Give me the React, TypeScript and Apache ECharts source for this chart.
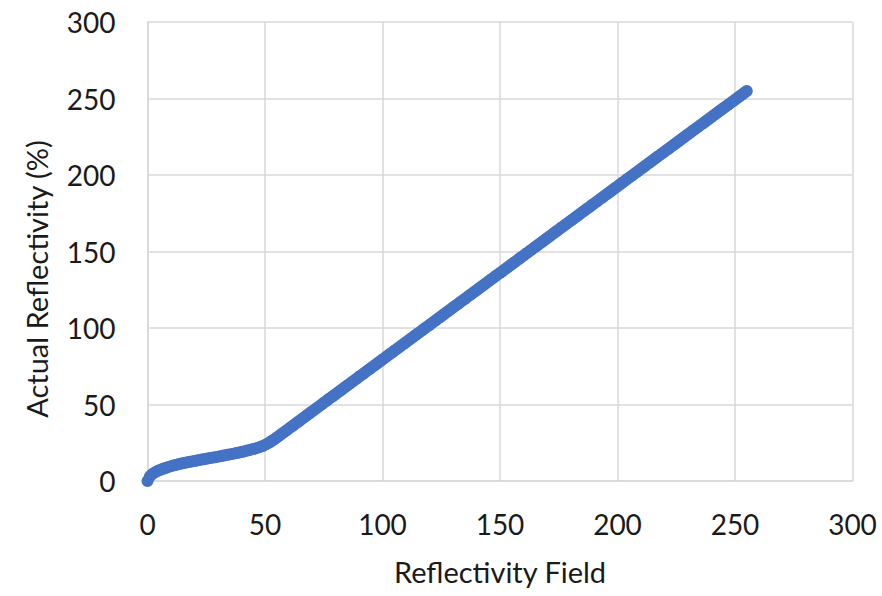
import React, { useEffect, useRef } from "react";
import * as echarts from "echarts";

const xTicks = [0, 50, 100, 150, 200, 250, 300];
const yTicks = [0, 50, 100, 150, 200, 250, 300];

// Actual reflectivity (%) for reflectivity field values 0..255
const actualReflectivity: number[] = [
  0, 3, 4.5, 5.5, 6.3, 7, 7.6, 8.2, 8.7, 9.2,
  9.7, 10.1, 10.5, 10.9, 11.3, 11.6, 11.9, 12.2, 12.5, 12.8,
  13.1, 13.4, 13.7, 14.0, 14.2, 14.5, 14.8, 15.1, 15.4, 15.6,
  15.9, 16.2, 16.5, 16.8, 17.1, 17.4, 17.7, 18.0, 18.3, 18.6,
  19.0, 19.3, 19.7, 20.1, 20.5, 20.9, 21.3, 21.8, 22.3, 22.9,
  23.6, 24.4, 25.3, 26.3, 27.3, 28.4, 29.5, 30.7, 31.8, 32.9,
  34.1, 35.2, 36.3, 37.5, 38.6, 39.7, 40.9, 42.0, 43.1, 44.3,
  45.4, 46.5, 47.7, 48.8, 49.9, 51.1, 52.2, 53.4, 54.5, 55.6,
  56.7, 57.9, 59.0, 60.1, 61.3, 62.4, 63.5, 64.7, 65.8, 66.9,
  68.1, 69.2, 70.3, 71.5, 72.6, 73.7, 74.9, 76.0, 77.1, 78.3,
  79.4, 80.5, 81.7, 82.8, 83.9, 85.1, 86.2, 87.3, 88.5, 89.6,
  90.7, 91.9, 93.0, 94.1, 95.3, 96.4, 97.5, 98.7, 99.8, 100.9,
  102.0, 103.2, 104.3, 105.4, 106.6, 107.7, 108.8, 110.0, 111.1, 112.2,
  113.4, 114.5, 115.6, 116.8, 117.9, 119.0, 120.2, 121.3, 122.4, 123.6,
  124.7, 125.8, 127.0, 128.1, 129.2, 130.4, 131.5, 132.6, 133.8, 134.9,
  136.0, 137.1, 138.3, 139.4, 140.5, 141.7, 142.8, 143.9, 145.1, 146.2,
  147.3, 148.5, 149.6, 150.7, 151.9, 153.0, 154.1, 155.3, 156.4, 157.5,
  158.7, 159.8, 160.9, 162.1, 163.2, 164.3, 165.5, 166.6, 167.7, 168.9,
  170.0, 171.1, 172.3, 173.4, 174.5, 175.7, 176.8, 177.9, 179.0, 180.2,
  181.3, 182.4, 183.6, 184.7, 185.8, 187.0, 188.1, 189.2, 190.4, 191.5,
  192.6, 193.8, 194.9, 196.0, 197.2, 198.3, 199.4, 200.6, 201.7, 202.8,
  204.0, 205.1, 206.2, 207.4, 208.5, 209.6, 210.8, 211.9, 213.0, 214.1,
  215.3, 216.4, 217.5, 218.7, 219.8, 220.9, 222.1, 223.2, 224.3, 225.5,
  226.6, 227.7, 228.9, 230.0, 231.1, 232.3, 233.4, 234.5, 235.7, 236.8,
  237.9, 239.1, 240.2, 241.3, 242.5, 243.6, 244.7, 245.8, 247.0, 248.1,
  249.2, 250.4, 251.5, 252.6, 253.8, 254.9,
];

const xTitle = "Reflectivity Field";
const yTitle = "Actual Reflectivity (%)";

export default function App() {
  const ref = useRef<HTMLDivElement>(null);
  useEffect(() => {
    if (!ref.current) return;
    const chart = echarts.init(ref.current, null, { renderer: "svg" });
    const data = actualReflectivity.map((v, i) => [i, v]);
    const font = "Lato";
    chart.setOption({
      animation: false,
      backgroundColor: "#ffffff",
      grid: { left: 147.5, right: 29.5, top: 22, bottom: 115, containLabel: false },
      xAxis: {
        type: "value",
        min: xTicks[0],
        max: xTicks[xTicks.length - 1],
        interval: 50,
        name: xTitle,
        nameLocation: "middle",
        nameGap: 76,
        nameTextStyle: { fontFamily: font, fontSize: 29, color: "#1a1a1a" },
        axisLine: { show: true, lineStyle: { color: "#d9d9d9", width: 1.5 } },
        axisTick: { show: false },
        axisLabel: { fontFamily: font, fontSize: 28, color: "#1a1a1a", margin: 29 },
        splitLine: { show: true, lineStyle: { color: "#d9d9d9", width: 1.5 } },
      },
      yAxis: {
        type: "value",
        min: yTicks[0],
        max: yTicks[yTicks.length - 1],
        interval: 50,
        axisLine: { show: true, lineStyle: { color: "#d9d9d9", width: 1.5 } },
        axisTick: { show: false },
        axisLabel: { fontFamily: font, fontSize: 28, color: "#1a1a1a", margin: 32 },
        splitLine: { show: true, lineStyle: { color: "#d9d9d9", width: 1.5 } },
      },
      graphic: [
        {
          type: "text",
          x: 36,
          y: 279,
          rotation: Math.PI / 2,
          style: {
            text: yTitle,
            fontFamily: font,
            fontSize: 29,
            fill: "#1a1a1a",
            align: "center",
            verticalAlign: "middle",
          },
        },
      ],
      series: [
        {
          type: "scatter",
          data,
          symbol: "circle",
          symbolSize: 12,
          itemStyle: { color: "#4472C4", opacity: 1 },
        },
      ],
    });
    return () => chart.dispose();
  }, []);
  return (
    <div
      ref={ref}
      style={{ position: "fixed", left: 0, top: 0, width: 882, height: 596 }}
    />
  );
}
